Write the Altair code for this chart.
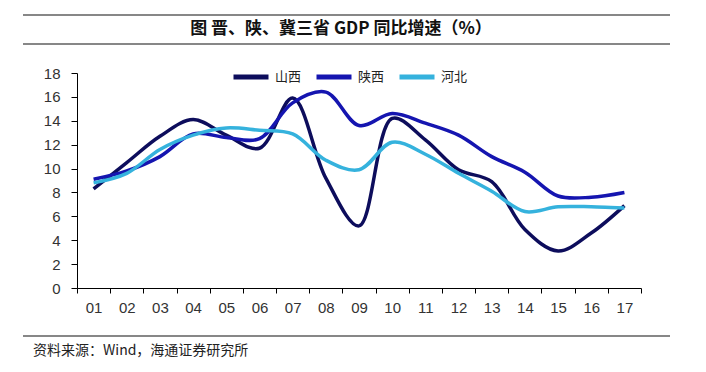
import altair as alt
import pandas as pd

years = ["01", "02", "03", "04", "05", "06", "07", "08", "09",
         "10", "11", "12", "13", "14", "15", "16", "17"]
shanxi = [8.3, 10.5, 12.7, 14.1, 12.8, 11.7, 15.9, 9.2, 5.2,
          14.2, 12.4, 9.9, 8.9, 4.9, 3.1, 4.6, 6.9]
shaanxi = [9.1, 9.8, 11.0, 12.9, 12.6, 12.5, 15.5, 16.4, 13.6,
           14.6, 13.8, 12.8, 11.0, 9.7, 7.7, 7.6, 8.0]
hebei = [8.8, 9.6, 11.6, 12.8, 13.4, 13.2, 12.9, 10.7, 9.9,
         12.2, 11.2, 9.6, 8.1, 6.4, 6.8, 6.8, 6.7]
series_names = ["山西", "陕西", "河北"]
series_colors = ["#0d0d5c", "#1515b0", "#35b2dd"]

title_text = "图  晋、陕、冀三省 GDP 同比增速（%）"
source_text = "资料来源：Wind，海通证券研究所"

rows = []
for name, vals in zip(series_names, [shanxi, shaanxi, hebei]):
    for y, v in zip(years, vals):
        rows.append({"year": y, "series": name, "value": v})
df = pd.DataFrame(rows)

W, H = 564, 215

lines = alt.Chart(df).mark_line(
    interpolate="catmull-rom", strokeWidth=3.5
).encode(
    x=alt.X("year:N", sort=years, title=None,
            scale=alt.Scale(paddingInner=0, paddingOuter=0),
            axis=alt.Axis(labelAngle=0, tickBand="extent", tickSize=5,
                          labelPadding=7, labelFont="Liberation Sans",
                          labelFontSize=15, labelColor="#333",
                          domainColor="#000", tickColor="#000", grid=False)),
    y=alt.Y("value:Q", title=None,
            scale=alt.Scale(domain=[0, 18], nice=False),
            axis=alt.Axis(values=list(range(0, 19, 2)), tickSize=6,
                          labelPadding=11, labelFont="Liberation Sans",
                          labelFontSize=15, labelColor="#333",
                          domainColor="#000", tickColor="#000", grid=False)),
    color=alt.Color("series:N",
                    scale=alt.Scale(domain=series_names, range=series_colors),
                    legend=alt.Legend(orient="none", legendX=154, legendY=-16,
                                      direction="horizontal", title=None,
                                      symbolType="stroke", symbolSize=1225,
                                      symbolStrokeWidth=5, labelFontSize=13,
                                      labelFont="Noto Sans CJK SC",
                                      labelColor="#222", labelOffset=4,
                                      columnPadding=4, gridAlign="none")),
)

rule_df = pd.DataFrame({"x": [-54, -54, -54], "x2": [593, 593, 593],
                        "y": [-58, -29, 263]})
rules = alt.Chart(rule_df).mark_rule(color="#111", strokeWidth=1.2).encode(
    x=alt.X("x:Q", scale=None), x2="x2:Q", y=alt.Y("y:Q", scale=None)
)

title = alt.Chart(pd.DataFrame({"t": [title_text]})).mark_text(
    font="Noto Sans CJK SC", fontSize=17, fontWeight="bold", color="#111",
    align="center", baseline="middle"
).encode(x=alt.value(264), y=alt.value(-44), text="t:N")

source = alt.Chart(pd.DataFrame({"t": [source_text]})).mark_text(
    font="Noto Sans CJK SC", fontSize=14, color="#222",
    align="left", baseline="middle"
).encode(x=alt.value(-44), y=alt.value(278), text="t:N")

chart = alt.layer(lines, rules, title, source).properties(
    width=W, height=H,
    autosize=alt.AutoSizeParams(type="none"),
    padding={"left": 69, "top": 65, "right": 57, "bottom": 76},
).configure_view(stroke=None)

chart.save("out.html", embed_options={"renderer": "svg", "actions": False})
